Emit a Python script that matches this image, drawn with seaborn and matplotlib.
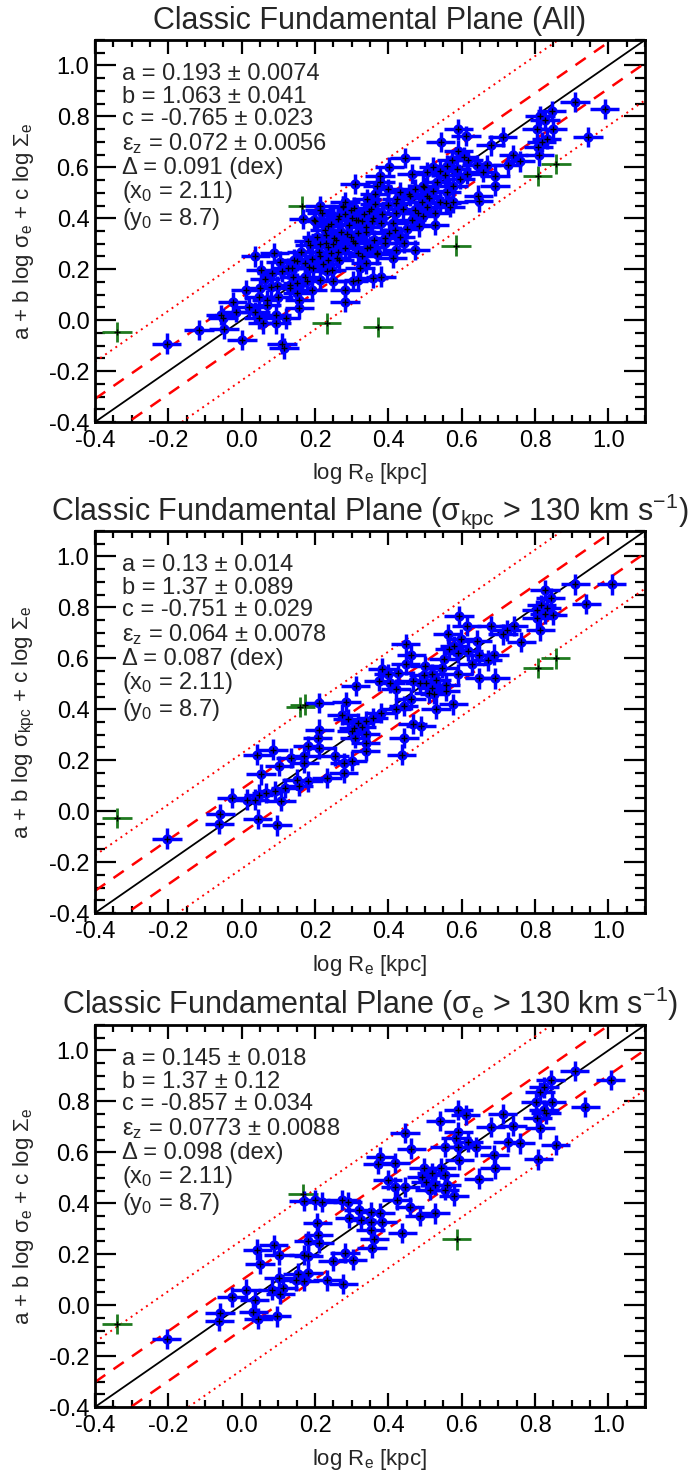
import numpy as np
import pandas as pd
import matplotlib
matplotlib.use("Agg")
import matplotlib.pyplot as plt
from matplotlib.ticker import MultipleLocator, FuncFormatter
import seaborn as sns

# ---------------- data ----------------
titles = [
    "Classic Fundamental Plane (All)",
    "Classic Fundamental Plane (σ$_{\\rm kpc}$ > 130 km s$^{-1}$)",
    "Classic Fundamental Plane (σ$_{\\rm e}$ > 130 km s$^{-1}$)",
]
ylabels = [
    "a + b log σ$_{\\rm e}$ + c log Σ$_{\\rm e}$",
    "a + b log σ$_{\\rm kpc}$ + c log Σ$_{\\rm e}$",
    "a + b log σ$_{\\rm e}$ + c log Σ$_{\\rm e}$",
]
xlabel = "log R$_{\\rm e}$ [kpc]"

fit_a = ["0.193 ± 0.0074", "0.13 ± 0.014", "0.145 ± 0.018"]
fit_b = ["1.063 ± 0.041", "1.37 ± 0.089", "1.37 ± 0.12"]
fit_c = ["-0.765 ± 0.023", "-0.751 ± 0.029", "-0.857 ± 0.034"]
fit_eps = ["0.072 ± 0.0056", "0.064 ± 0.0078", "0.0773 ± 0.0088"]
fit_delta = [0.091, 0.087, 0.098]
x0_val = "2.11"
y0_val = "8.7"

xerr_val = 0.04
yerr_val = 0.04

# Panel 1 (All) -- fitted points
p1_blue_x = [-0.205, -0.116, -0.057, -0.048, 0.001, 0.011, -0.025, 0.037, 0.053, 0.089, 0.105, 0.110,
             0.115, 0.047, 0.058, 0.094, 0.120, 0.094, 0.157, 0.157, 0.282, 0.282, 0.318, 0.380,
             0.412, 0.214, 0.198, 0.276, 0.037, 0.068, 0.100, 0.131, 0.152, 0.172, 0.183, 0.214,
             0.235, 0.256, 0.214, 0.245, 0.193, 0.318, 0.349, 0.401, 0.443, 0.484, 0.526, 0.557,
             0.568, 0.308, 0.266, 0.110, 0.141, 0.152, 0.079, 0.047, 0.068, 0.021, -0.015, 0.339,
             0.370, 0.360, 0.318, 0.235, 0.266, 0.297, 0.380, 0.422, 0.474, 0.505, 0.339, 0.412,
             0.432, 0.464, 0.495, 0.526, 0.474, 0.422, 0.391, 0.318, 0.235, 0.646, -0.051,
             0.168, 0.200, 0.218, 0.309, 0.277, 0.305, 0.364, 0.355, 0.327, 0.182, 0.214, 0.250,
             0.286, 0.304, 0.341, 0.368, 0.150, 0.195, 0.232, 0.177, 0.132, 0.095, 0.050, 0.259,
             0.323, 0.359, 0.304, 0.250,
             0.909, 0.845, 0.814, 0.827, 0.848, 0.805, 0.832, 0.818, 0.809, 0.812, 0.712, 0.679,
             0.741, 0.725, 0.759, 0.591, 0.612, 0.543, 0.445, 0.403, 0.377, 0.464, 0.591, 0.605,
             0.573, 0.559, 0.586, 0.618, 0.641, 0.668, 0.657, 0.691, 0.691, 0.645, 0.614, 0.595,
             0.577, 0.555, 0.541, 0.523, 0.505, 0.532, 0.559, 0.523, 0.495, 0.505, 0.473, 0.459,
             0.432, 0.423, 0.377, 0.370, 0.400, 0.364, 0.341, 0.282, 0.214, 0.491, 0.541, 0.577,
             0.990, 0.945,
             0.125, 0.142, 0.163, 0.185, 0.205, 0.226, 0.244, 0.262, 0.283, 0.191, 0.212, 0.231,
             0.252, 0.271, 0.292, 0.313, 0.333, 0.352, 0.222, 0.262, 0.298, 0.338, 0.384, 0.421,
             0.455, 0.497, 0.441, 0.398, 0.358, 0.283, 0.173, 0.243, 0.328, 0.392, 0.452, 0.512,
             0.064, 0.083, 0.138, 0.229, 0.302, 0.347, 0.417, 0.482]
p1_blue_y = [-0.092, -0.039, 0.020, -0.033, -0.078, 0.118, 0.072, 0.250, 0.197, 0.263, 0.230, -0.092,
             -0.111, 0.007, -0.013, 0.020, 0.007, -0.013, 0.046, 0.079, 0.072, 0.118, 0.158, 0.171,
             0.243, 0.433, 0.394, 0.446, 0.033, 0.059, 0.092, 0.125, 0.145, 0.171, 0.210, 0.250,
             0.289, 0.315, 0.158, 0.197, 0.118, 0.341, 0.289, 0.341, 0.302, 0.368, 0.420, 0.460,
             0.446, 0.302, 0.236, 0.191, 0.171, 0.105, 0.131, 0.092, 0.079, 0.053, 0.033, 0.223,
             0.263, 0.315, 0.394, 0.368, 0.407, 0.433, 0.381, 0.420, 0.433, 0.446, 0.348, 0.381,
             0.328, 0.394, 0.407, 0.374, 0.276, 0.276, 0.302, 0.263, 0.236, 0.466, 0.007,
             0.396, 0.389, 0.422, 0.534, 0.449, 0.442, 0.455, 0.389, 0.389, 0.310, 0.297, 0.297,
             0.337, 0.310, 0.284, 0.258, 0.231, 0.205, 0.192, 0.153, 0.139, 0.133, 0.126, 0.245,
             0.205, 0.166, 0.153, 0.153,
             0.857, 0.820, 0.802, 0.785, 0.749, 0.752, 0.712, 0.699, 0.680, 0.647, 0.718, 0.686,
             0.649, 0.610, 0.623, 0.749, 0.723, 0.699, 0.636, 0.601, 0.565, 0.574, 0.666, 0.640,
             0.627, 0.607, 0.594, 0.627, 0.610, 0.610, 0.581, 0.565, 0.528, 0.489, 0.574, 0.555,
             0.528, 0.568, 0.587, 0.601, 0.581, 0.542, 0.502, 0.509, 0.528, 0.489, 0.515, 0.489,
             0.502, 0.476, 0.541, 0.528, 0.515, 0.495, 0.476, 0.462, 0.449, 0.462, 0.462, 0.462,
             0.830, 0.720,
             0.203, 0.238, 0.268, 0.296, 0.328, 0.352, 0.376, 0.398, 0.418, 0.242, 0.268, 0.301,
             0.322, 0.348, 0.372, 0.392, 0.418, 0.438, 0.222, 0.268, 0.328, 0.366, 0.418, 0.458,
             0.496, 0.522, 0.437, 0.452, 0.402, 0.282, 0.226, 0.262, 0.252, 0.322, 0.358, 0.478,
             0.162, 0.186, 0.206, 0.335, 0.402, 0.428, 0.352, 0.422]
p1_green_x = [-0.340, 0.232, 0.372, 0.585, 0.165, 0.807, 0.857]
p1_green_y = [-0.046, -0.013, -0.026, 0.293, 0.448, 0.565, 0.614]

# Panel 2 (sigma_kpc > 130)
p2_blue_x = [0.910, 1.009, 0.940, 0.827, 0.843, 0.817, 0.832, 0.805, 0.827, 0.848, 0.805, 0.815,
             0.763, 0.742, 0.723, 0.713, 0.681, 0.593, 0.614, 0.562, 0.598, 0.642, 0.580, 0.591,
             0.617, 0.648, 0.688, 0.671, 0.629, 0.551, 0.566, 0.447, 0.463, 0.447, 0.499, 0.546,
             0.520, 0.591, 0.530, 0.504, 0.520, 0.648, 0.692, 0.556, 0.510, 0.525, 0.556, 0.530,
             0.577, 0.485, 0.468, 0.421, 0.463, 0.442, 0.421, 0.384, 0.400, 0.405, 0.426, 0.374,
             0.311, 0.285, 0.274, 0.290, 0.317, 0.338, 0.359, 0.379, 0.327, 0.301, 0.309, 0.338,
             0.306, 0.466, 0.489, 0.443, 0.338, 0.338, 0.436, 0.212, 0.212, 0.207, 0.181, 0.212,
             0.171, 0.171, 0.134, 0.254, 0.280, 0.301, 0.278, 0.233, 0.085, 0.043, 0.103, 0.053,
             0.150, 0.155, 0.181, 0.119, 0.090, 0.067, 0.046, 0.108, 0.015, -0.027, 0.035, -0.058,
             -0.061, 0.044, 0.096, -0.204, 0.497]
p2_blue_y = [0.890, 0.890, 0.814, 0.867, 0.838, 0.809, 0.799, 0.788, 0.775, 0.770, 0.757, 0.710,
             0.665, 0.727, 0.710, 0.694, 0.727, 0.766, 0.727, 0.696, 0.674, 0.670, 0.648, 0.622,
             0.628, 0.615, 0.615, 0.592, 0.576, 0.596, 0.635, 0.655, 0.615, 0.576, 0.569, 0.563,
             0.539, 0.537, 0.513, 0.504, 0.484, 0.521, 0.521, 0.497, 0.465, 0.461, 0.471, 0.403,
             0.419, 0.504, 0.510, 0.478, 0.439, 0.412, 0.403, 0.560, 0.539, 0.504, 0.543, 0.510,
             0.491, 0.429, 0.379, 0.360, 0.347, 0.353, 0.366, 0.386, 0.330, 0.314, 0.288, 0.301,
             0.327, 0.343, 0.334, 0.288, 0.268, 0.235, 0.222, 0.425, 0.320, 0.288, 0.255, 0.246,
             0.216, 0.190, 0.209, 0.216, 0.190, 0.196, 0.150, 0.131, 0.242, 0.222, 0.176, 0.144,
             0.124, 0.098, 0.117, 0.091, 0.078, 0.072, 0.065, 0.039, 0.045, 0.052, 0.045, -0.011,
             -0.050, -0.030, -0.056, -0.108, 0.536]
p2_green_x = [-0.340, 0.160, 0.172, 0.808, 0.856]
p2_green_y = [-0.027, 0.408, 0.418, 0.563, 0.600]

# Panel 3 (sigma_e > 130)
p3_blue_x = [0.908, 1.006, 0.937, 0.843, 0.825, 0.814, 0.802, 0.845, 0.825, 0.806, 0.830, 0.814,
             0.712, 0.739, 0.679, 0.760, 0.726, 0.856, 0.809, 0.689, 0.691, 0.646, 0.640, 0.617,
             0.591, 0.611, 0.542, 0.445, 0.591, 0.585, 0.554, 0.591, 0.463, 0.378, 0.372, 0.419,
             0.594, 0.497, 0.518, 0.544, 0.554, 0.492, 0.502, 0.528, 0.559, 0.398, 0.419, 0.445,
             0.513, 0.554, 0.579, 0.424, 0.458, 0.486, 0.528, 0.320, 0.352, 0.378, 0.294, 0.325,
             0.352, 0.383, 0.352, 0.362, 0.355, 0.438, 0.170, 0.201, 0.220, 0.274, 0.289, 0.206,
             0.209, 0.182, 0.211, 0.043, 0.087, 0.102, 0.050, 0.170, 0.182, 0.248, 0.282, 0.303,
             0.154, 0.182, 0.149, 0.170, 0.102, 0.234, 0.277, 0.084, 0.113, 0.105, 0.012, -0.026,
             0.035, -0.059, -0.061, 0.032, 0.045, 0.095, -0.205]
p3_blue_y = [0.919, 0.884, 0.779, 0.884, 0.855, 0.838, 0.799, 0.799, 0.766, 0.733, 0.753, 0.694,
             0.750, 0.703, 0.700, 0.635, 0.641, 0.628, 0.572, 0.589, 0.537, 0.497, 0.622, 0.641,
             0.766, 0.746, 0.724, 0.677, 0.681, 0.655, 0.622, 0.622, 0.615, 0.580, 0.556, 0.559,
             0.569, 0.537, 0.517, 0.537, 0.511, 0.504, 0.484, 0.471, 0.471, 0.491, 0.465, 0.465,
             0.451, 0.451, 0.428, 0.412, 0.386, 0.349, 0.360, 0.375, 0.366, 0.360, 0.344, 0.334,
             0.327, 0.327, 0.294, 0.258, 0.226, 0.284, 0.410, 0.412, 0.406, 0.412, 0.406, 0.323,
             0.275, 0.252, 0.244, 0.218, 0.235, 0.196, 0.163, 0.196, 0.192, 0.174, 0.205, 0.179,
             0.124, 0.126, 0.097, 0.095, 0.108, 0.097, 0.082, 0.061, 0.069, 0.043, 0.061, 0.032,
             0.019, -0.031, -0.062, -0.027, -0.053, -0.044, -0.133]
p3_green_x = [-0.340, 0.167, 0.586]
p3_green_y = [-0.075, 0.436, 0.258]

panels = [
    (p1_blue_x, p1_blue_y, p1_green_x, p1_green_y),
    (p2_blue_x, p2_blue_y, p2_green_x, p2_green_y),
    (p3_blue_x, p3_blue_y, p3_green_x, p3_green_y),
]

# ---------------- style ----------------
sns.set_style("ticks")
plt.rcParams["font.family"] = ["Liberation Sans", "DejaVu Sans"]
plt.rcParams["mathtext.fontset"] = "custom"
plt.rcParams["mathtext.rm"] = "Liberation Sans"
plt.rcParams["mathtext.it"] = "Liberation Sans"
plt.rcParams["mathtext.bf"] = "Liberation Sans:bold"
plt.rcParams["axes.unicode_minus"] = False

W, H = 692, 1470
fig = plt.figure(figsize=(W / 100, H / 100), dpi=100)

ax_left, ax_w = 95 / W, 550 / W
tops = [40, 531, 1025]
ax_hpx = 382

blue = "#0000ff"
green = "#1f7a1f"
fmt = FuncFormatter(lambda v, p: f"{round(v, 1) + 0.0:.1f}")

for i, (bx, by, gx, gy) in enumerate(panels):
    bottom = 1 - (tops[i] + ax_hpx) / H
    ax = fig.add_axes([ax_left, bottom, ax_w, ax_hpx / H])
    ax.set_xlim(-0.4, 1.1)
    ax.set_ylim(-0.4, 1.1)

    d = fit_delta[i]
    xs = np.array([-0.4, 1.1])
    ax.plot(xs, xs, color="black", lw=1.3, zorder=2)
    ax.plot(xs, xs + d, color="red", lw=1.8, dashes=(5, 4), zorder=2)
    ax.plot(xs, xs - d, color="red", lw=1.8, dashes=(5, 4), zorder=2)
    ax.plot(xs, xs + 2.6 * d, color="red", lw=1.4, dashes=(1, 2.2), zorder=2)
    ax.plot(xs, xs - 2.6 * d, color="red", lw=1.4, dashes=(1, 2.2), zorder=2)

    dfb = pd.DataFrame({"x": bx, "y": by})
    dfg = pd.DataFrame({"x": gx, "y": gy})

    ax.errorbar(dfg["x"], dfg["y"], xerr=0.04, yerr=0.04, fmt="none",
                ecolor=green, elinewidth=2.0, capsize=0, zorder=3)
    ax.errorbar(dfb["x"], dfb["y"], xerr=xerr_val, yerr=yerr_val, fmt="none",
                ecolor=blue, elinewidth=2.5, capsize=0, zorder=3)
    sns.scatterplot(data=dfb, x="x", y="y", ax=ax, color=blue, s=55,
                    edgecolor=blue, linewidth=0, zorder=4, legend=False)
    sns.scatterplot(data=pd.concat([dfb, dfg]), x="x", y="y", ax=ax, color="black",
                    marker="+", s=22, linewidth=1.0, zorder=5, legend=False)

    ax.xaxis.set_major_locator(MultipleLocator(0.2))
    ax.xaxis.set_minor_locator(MultipleLocator(0.05))
    ax.yaxis.set_major_locator(MultipleLocator(0.2))
    ax.yaxis.set_minor_locator(MultipleLocator(0.05))
    ax.xaxis.set_major_formatter(fmt)
    ax.yaxis.set_major_formatter(fmt)
    ax.tick_params(which="both", direction="in", top=True, right=True,
                   labelsize=17, width=1.6, colors="black")
    ax.tick_params(axis="x", which="major", length=10, pad=6)
    ax.tick_params(axis="x", which="minor", length=5)
    ax.tick_params(axis="y", which="major", length=15, pad=4)
    ax.tick_params(axis="y", which="minor", length=7)
    for sp in ax.spines.values():
        sp.set_linewidth(2.0)
        sp.set_color("black")
    ax.set_xlabel("")
    ax.set_ylabel("")

    ax.text(0.5, 1 + 11 / ax_hpx, titles[i], transform=ax.transAxes,
            ha="center", va="baseline", fontsize=22)
    ax.text(0.5, -52 / ax_hpx, xlabel, transform=ax.transAxes,
            ha="center", va="center", fontsize=16)
    ax.text((24 - 95) / 550, 0.5, ylabels[i], transform=ax.transAxes,
            ha="center", va="center", rotation=90, fontsize=16)

    lines = [
        f"a = {fit_a[i]}",
        f"b = {fit_b[i]}",
        f"c = {fit_c[i]}",
        f"ε$_{{\\rm z}}$ = {fit_eps[i]}",
        f"Δ = {fit_delta[i]:.3f} (dex)",
        f"(x$_{{\\rm 0}}$ = {x0_val})",
        f"(y$_{{\\rm 0}}$ = {y0_val})",
    ]
    ax.text(27 / 550, 1 - 23 / ax_hpx, "\n".join(lines), transform=ax.transAxes,
            ha="left", va="top", fontsize=17, linespacing=1.04, zorder=6)

fig.savefig("out.png", dpi=100)
